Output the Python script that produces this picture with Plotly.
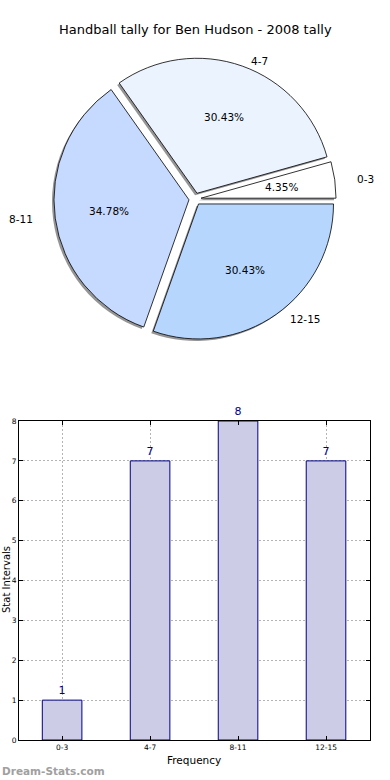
import math
import plotly.graph_objects as go

# ---- data ----
categories = ["0-3", "4-7", "8-11", "12-15"]
tally = [1, 7, 8, 7]
pie_colors = ["#ffffff", "#ebf3ff", "#c6d9fe", "#b6d6fe"]
title_text = "Handball tally for Ben Hudson - 2008 tally"
x_title = "Frequency"
y_title = "Stat Intervals"
watermark = "Dream-Stats.com"

W, H = 390, 780
FONT = "DejaVu Sans"

# ---- pie geometry (pixels) ----
cx, cy = 195, 199          # pie centre
R = 135                    # slice radius
PULL = 0.045               # explode fraction of radius
D = 2 * R * (1 + PULL)     # domain side so plotly's radius equals R
LRX, LRY = 141, 128        # label radii (reference layout)

total = sum(tally)
# plotly (counterclockwise) ends the first slice at `rotation`; make it start at 3 o'clock
ROT = 90 - 360.0 * tally[0] / total


def dom(cxp, cyp):
    return dict(x=[(cxp - D / 2) / W, (cxp + D / 2) / W],
                y=[1 - (cyp + D / 2) / H, 1 - (cyp - D / 2) / H])


fig = go.Figure()

# shadow pie
fig.add_trace(go.Pie(
    values=tally, labels=categories, sort=False, direction="counterclockwise",
    rotation=ROT, pull=[PULL] * len(tally), domain=dom(cx - 2, cy + 2),
    marker=dict(colors=["#8a8a8a"] * len(tally), line=dict(width=0)),
    textinfo="none", hoverinfo="skip", showlegend=False, opacity=0.9,
    automargin=False,
))
# main pie
fig.add_trace(go.Pie(
    values=tally, labels=categories, sort=False, direction="counterclockwise",
    rotation=ROT, pull=[PULL] * len(tally), domain=dom(cx, cy),
    marker=dict(colors=pie_colors, line=dict(color="#000000", width=0.8)),
    textinfo="none", showlegend=False, automargin=False,
))

# label / percentage annotations derived from the data
cum = 0
annotations = []
for lab, v in zip(categories, tally):
    th = 2 * math.pi * (cum + v / 2) / total
    cum += v
    c, s = math.cos(th), math.sin(th)
    ex, ey = cx + PULL * R * c, cy - PULL * R * s
    lx, ly = ex + 1.1 * LRX * c, ey - 1.1 * LRY * s
    px, py = ex + 0.6 * R * c, ey - 0.6 * R * s
    annotations.append(dict(
        x=lx / W, y=1 - ly / H, xref="paper", yref="paper", text=lab,
        showarrow=False, xanchor="left" if c > 0 else "right", yanchor="middle",
        font=dict(family=FONT, size=10.5, color="#000")))
    annotations.append(dict(
        x=px / W, y=1 - py / H, xref="paper", yref="paper",
        text="%.2f%%" % (100 * v / total),
        showarrow=False, xanchor="center", yanchor="middle",
        font=dict(family=FONT, size=10.5, color="#000")))

# ---- bar chart ----
fig.add_trace(go.Bar(
    x=categories, y=tally, width=0.45,
    marker=dict(color="#cccce6", line=dict(color="#000080", width=1)),
    text=[str(v) for v in tally], textposition="outside", cliponaxis=False,
    textfont=dict(family=FONT, size=11, color="#000080"),
    showlegend=False, xaxis="x", yaxis="y",
))

ax_common = dict(showline=True, linecolor="#000", linewidth=1, mirror="ticks",
                 ticks="inside", ticklen=4, tickcolor="#000",
                 showgrid=True, gridcolor="#b4b4b4", griddash="2px,2px", gridwidth=1,
                 zeroline=False, layer="above traces", automargin=False,
                 tickfont=dict(family=FONT, size=7.5, color="#000"))

fig.update_layout(
    width=W, height=H, margin=dict(l=0, r=0, t=0, b=0, pad=0, autoexpand=False),
    paper_bgcolor="#fff", plot_bgcolor="#fff",
    xaxis=dict(domain=[19 / W, 370 / W], type="category",
               range=[-0.49, 3.5], anchor="y", **ax_common),
    yaxis=dict(domain=[1 - 740 / H, 1 - 421 / H], range=[0, 8], dtick=1,
               anchor="x", **ax_common),
    annotations=annotations + [
        dict(x=0.5, y=1 - 30 / H, xref="paper", yref="paper", text=title_text,
             showarrow=False, xanchor="center", yanchor="middle",
             font=dict(family=FONT, size=13, color="#000")),
        dict(x=194 / W, y=1 - 760 / H, xref="paper", yref="paper", text=x_title,
             showarrow=False, xanchor="center", yanchor="middle",
             font=dict(family=FONT, size=10.5, color="#000")),
        dict(x=6 / W, y=1 - 580 / H, xref="paper", yref="paper", text=y_title,
             showarrow=False, textangle=-90, xanchor="center", yanchor="middle",
             font=dict(family=FONT, size=10, color="#000")),
        dict(x=0, y=1 - 771 / H, xref="paper", yref="paper", text="<b>" + watermark + "</b>",
             showarrow=False, xanchor="left", yanchor="middle",
             font=dict(family=FONT, size=10.5, color="#a0a0a0")),
    ],
)

fig.write_html("out.html", config={"displayModeBar": False},
               post_script="document.body.style.margin='0';")
